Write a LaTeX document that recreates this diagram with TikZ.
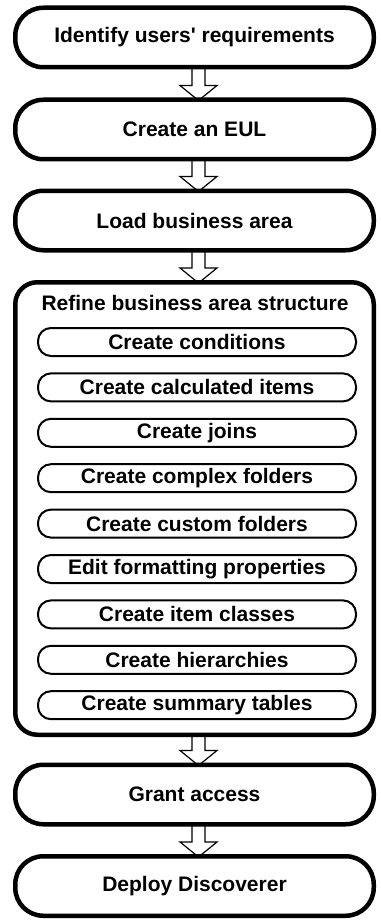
\documentclass[tikz,border=0pt]{standalone}
\usepackage{fontspec}
\setmainfont{Liberation Sans}
\usetikzlibrary{positioning, calc}

% hollow block arrow from one step down to the next
\newcommand{\steparrow}[2]{%
        \draw[steparrowline] let \p1=(#1.south), \p2=(#2.north) in
        ({\x1+4pt-6.5pt},{\y1+1pt}) -- ({\x1+4pt-6.5pt},{\y2+12pt}) --
        ({\x1+4pt-18.5pt},{\y2+12pt}) -- ({\x1+4pt},{\y2-3pt}) --
        ({\x1+4pt+18.5pt},{\y2+12pt}) -- ({\x1+4pt+6.5pt},{\y2+12pt}) --
        ({\x1+4pt+6.5pt},{\y1+1pt});}

\begin{document}
\begin{tikzpicture}[x=1pt, y=-1pt,
        stepbox/.style={draw, line width=4.5pt, rounded corners=28pt,
                minimum width=358.5pt, minimum height=59.5pt, inner sep=0pt,
                font=\fontsize{21}{25}\selectfont\bfseries},
        groupbox/.style={draw, line width=4.5pt, rounded corners=22pt,
                minimum width=358.5pt, minimum height=452.5pt, inner sep=0pt},
        grouptitle/.style={inner sep=0pt, font=\fontsize{21}{25}\selectfont\bfseries},
        substep/.style={draw, line width=2pt, rounded corners=13pt,
                minimum width=318pt, minimum height=28pt, inner sep=0pt,
                font=\fontsize{21}{25}\selectfont\bfseries},
        steparrowline/.style={line width=1.2pt, line join=miter}]

        \useasboundingbox (0,0) rectangle (380,920);

        % main steps
        \node[stepbox] (identify) at (194.5,37.5) {Identify users\textquotesingle{} requirements};
        \node[stepbox] (eul) at (194.5,129.5) {Create an EUL};
        \node[stepbox] (load) at (194.5,220.5) {Load business area};
        \node[groupbox] (refine) at (194.5,508.5) {};
        \node[stepbox] (grant) at (194.5,794.5) {Grant access};
        \node[stepbox] (deploy) at (194.5,886) {Deploy Discoverer};

        % refine group
        \node[grouptitle] (refinetitle) at (195,303) {Refine business area structure};
        \node[substep] (conditions) at (197,342) {Create conditions};
        \node[substep] (calculated) at (197,387.4) {Create calculated items};
        \node[substep] (joins) at (197,432.8) {Create joins};
        \node[substep] (complex) at (197,478.2) {Create complex folders};
        \node[substep] (custom) at (197,523.6) {Create custom folders};
        \node[substep] (formatting) at (197,569) {Edit formatting properties};
        \node[substep] (classes) at (197,614.4) {Create item classes};
        \node[substep] (hierarchies) at (197,659.8) {Create hierarchies};
        \node[substep] (summary) at (197,705.2) {Create summary tables};

        %arrows
        \steparrow{identify}{eul}
        \steparrow{eul}{load}
        \steparrow{load}{refine}
        \steparrow{refine}{grant}
        \steparrow{grant}{deploy}
\end{tikzpicture}
\end{document}
